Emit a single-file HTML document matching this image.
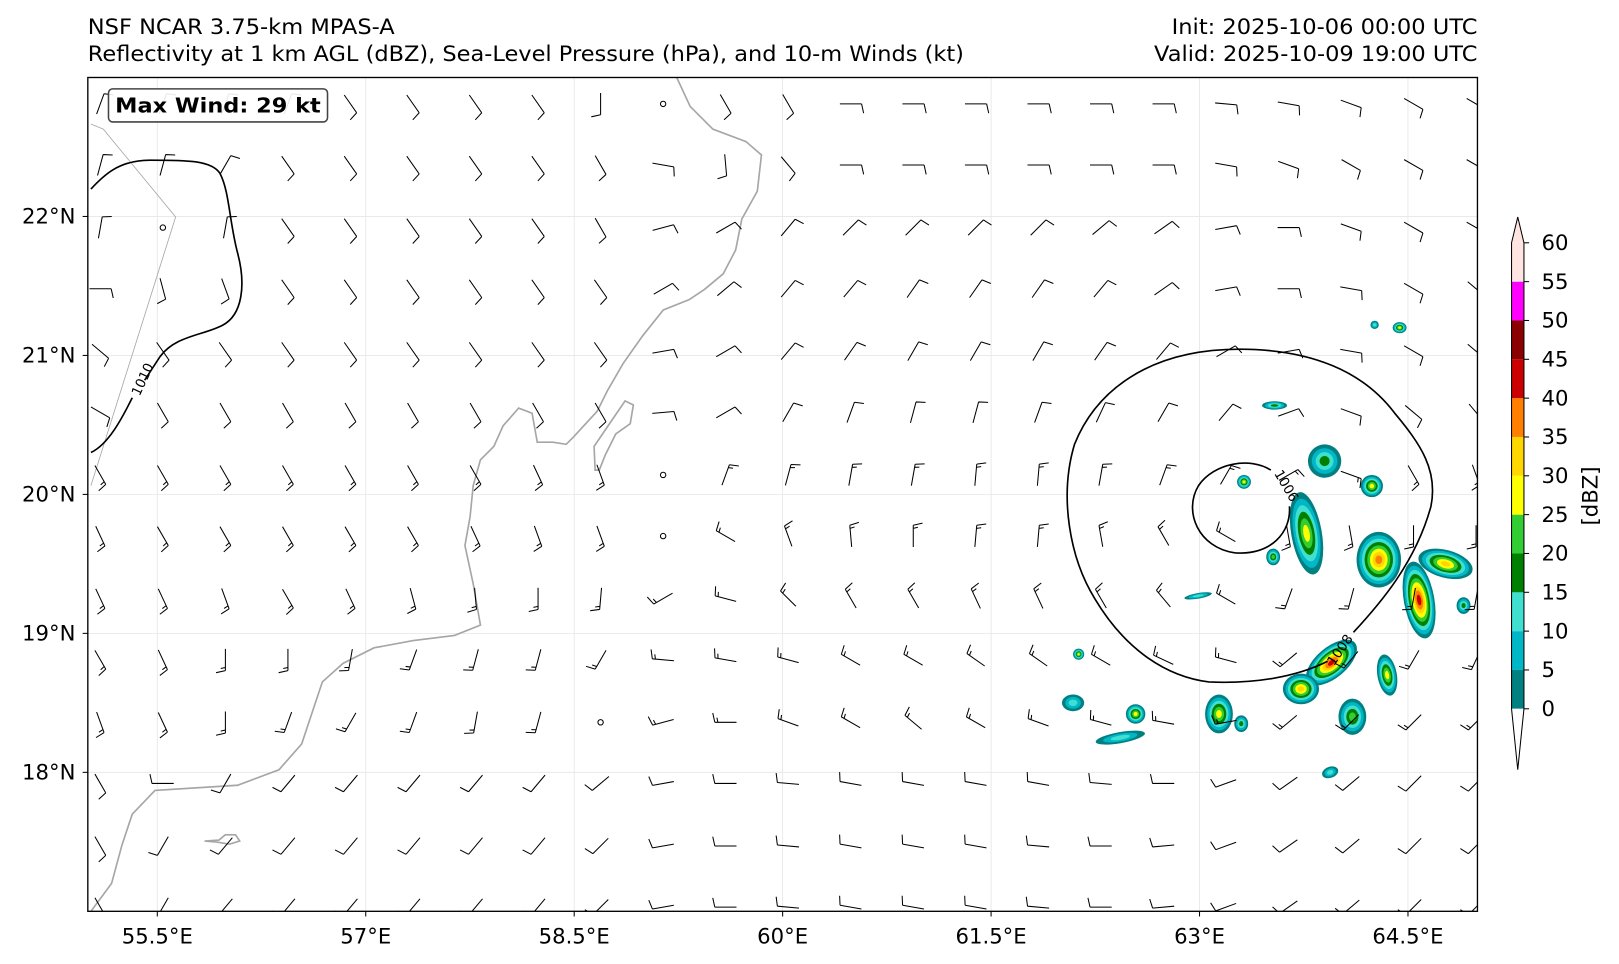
<!DOCTYPE html>
<html><head><meta charset="utf-8"><style>
html,body{margin:0;padding:0;background:#fff;width:1619px;height:964px;overflow:hidden}
svg{display:block;font-family:"DejaVu Sans","Liberation Sans",sans-serif}
</style></head><body>
<svg id="chart" width="1619" height="964" viewBox="0 0 1567 933" preserveAspectRatio="none" xmlns="http://www.w3.org/2000/svg">
<defs><clipPath id="plotclip"><rect x="85" y="75" width="1345" height="807"/></clipPath></defs>
<text x="85" y="33" font-size="20.5" textLength="297" lengthAdjust="spacingAndGlyphs">NSF NCAR 3.75-km MPAS-A</text>
<text x="85" y="59" font-size="20.5" textLength="848" lengthAdjust="spacingAndGlyphs">Reflectivity at 1 km AGL (dBZ), Sea-Level Pressure (hPa), and 10-m Winds (kt)</text>
<text x="1430" y="33" font-size="20.5" text-anchor="end" textLength="296" lengthAdjust="spacingAndGlyphs">Init: 2025-10-06 00:00 UTC</text>
<text x="1430" y="59" font-size="20.5" text-anchor="end" textLength="313" lengthAdjust="spacingAndGlyphs">Valid: 2025-10-09 19:00 UTC</text>
<g id="grid"></g>
<g clip-path="url(#plotclip)">
<g id="refl"></g>
<g fill="none" stroke="#a6a6a6" stroke-width="1.6">
<path d="M655,75 L668,103 L690,125 L722,137 L737,150 L733,185 L718,212 L712,242 L700,265 L682,280 L667,290 L642,300 L622,325 L603,352 L588,378 L578,398 L555,423 L548,430 L535,428 L520,428 L515,400 L502,395 L487,412 L478,432 L465,445 L458,470 L455,500 L450,528 L458,565 L465,605 L440,615 L400,620 L362,627 L332,642 L312,660 L302,690 L292,720 L270,745 L230,760 L150,765 L128,788 L118,818 L108,855 L88,882"/>
<path d="M576,455 L575,432 L590,410 L605,388 L613,392 L610,410 L596,420 L586,440 L580,455 Z"/>
<path d="M198,814 L212,813 L218,808 L228,808 L232,814 L222,817 L210,815 Z"/>
</g>
<path d="M88,120 L100,125 L170,210 L88,470" fill="none" stroke="#a6a6a6" stroke-width="0.8"/>
<g id="barbs" stroke="#000" stroke-width="1" fill="none"></g>
<g fill="none" stroke="#000" stroke-width="1.6">
<path d="M88,183 C100,170 115,155 145,155 C180,155 205,155 213,168 C222,185 222,215 230,245 C238,275 235,305 215,315 C195,325 170,325 155,345 L140,368 M128,385 C118,405 105,430 88,438"/>
<path d="M1230,455 C1210,442 1175,448 1160,470 C1145,495 1160,530 1195,535 C1230,538 1250,515 1248,490"/>
<path d="M1310,612 C1335,585 1370,545 1385,490 C1392,455 1375,430 1350,400 C1320,360 1270,338 1200,338 C1110,338 1060,380 1040,430 C1025,480 1035,540 1060,580 C1090,630 1130,655 1170,660 C1215,662 1255,655 1285,640"/>
</g>
<text font-size="13" transform="translate(135,384) rotate(-65)">1010</text>
<text font-size="13" transform="translate(1233,458) rotate(60)">1006</text>
<text font-size="13" transform="translate(1291,645) rotate(-55)">1008</text>
</g>
<rect x="85" y="75" width="1345" height="807" fill="none" stroke="#000" stroke-width="1.3"/>
<g>
<rect x="105" y="86" width="212" height="32" rx="4" fill="#fff" fill-opacity="0.9" stroke="#444" stroke-width="1.5"/>
<text x="211" y="109" font-size="20" font-weight="bold" text-anchor="middle" textLength="199" lengthAdjust="spacingAndGlyphs">Max Wind: 29 kt</text>
</g>
<g id="xaxis"></g>
<g id="yaxis"></g>
<g id="cbar"></g>
<text font-size="20.5" text-anchor="middle" transform="translate(1546,480) rotate(-90)">[dBZ]</text>
</svg>
<script>
const lonMin=55, lonMax=65, latMin=17, latMax=23;
const xTicks=[55.5,57,58.5,60,61.5,63,64.5];
const yTicks=[18,19,20,21,22];
const levels=[0,5,10,15,20,25,30,35,40,45,50,55,60];
const levelColors=['#008080','#00b7c7','#40e0d0','#008000','#32cd32','#ffff00','#ffd700','#ff8000','#cc0000','#8b0000','#ff00ff','#ffe4e1'];
const cbarTicks=[0,5,10,15,20,25,30,35,40,45,50,55,60];
const barbLons=[55.09,55.54,55.99,56.44,56.89,57.34,57.79,58.24,58.69,59.14,59.59,60.04,60.49,60.94,61.39,61.84,62.29,62.74,63.19,63.64,64.09,64.54,64.99];
const barbLats=[22.81,22.37,21.92,21.48,21.03,20.59,20.14,19.70,19.25,18.81,18.36,17.92,17.47,17.03];
const windDir=[
[20,20,20,20,145,145,145,145,180,-1,150,150,90,90,90,90,90,90,95,100,110,120,120],
[15,15,30,145,145,145,145,145,150,100,175,140,90,90,90,90,90,90,100,110,120,120,120],
[10,-1,10,145,145,145,145,145,150,75,60,40,45,45,45,45,50,55,80,90,110,120,120],
[90,165,160,145,145,145,145,145,145,60,50,40,40,35,35,35,40,55,80,90,100,120,130],
[130,145,145,145,145,145,145,145,145,80,60,40,35,30,30,30,35,40,60,80,100,120,130],
[120,150,150,150,150,150,150,150,150,85,60,30,20,15,15,20,25,30,40,70,110,130,140],
[150,150,150,150,150,150,150,155,160,-1,20,15,10,10,5,5,10,20,30,60,110,150,160],
[155,150,150,150,150,150,155,160,160,-1,300,340,355,0,5,5,350,330,300,170,170,180,180],
[155,155,160,150,155,165,175,180,185,240,285,315,330,330,335,335,330,320,300,200,195,190,190],
[150,155,180,180,190,200,195,195,210,275,280,285,300,300,305,305,300,295,285,230,220,210,205],
[160,155,180,200,210,200,190,195,-1,255,270,290,300,310,300,290,285,280,260,230,225,225,225],
[150,270,210,220,220,220,220,220,230,260,270,275,280,280,280,280,275,270,250,235,230,225,225],
[150,210,220,220,220,220,220,220,225,260,270,275,280,280,280,275,270,265,250,235,230,225,225],
[150,210,220,220,220,220,220,220,225,260,270,275,280,280,280,275,270,265,250,235,230,225,225]];
const rowSpeed=[10,10,10,10,12,12,13,15,15,15,15,12,12,10];
const cellLon=[63.77,64.29,64.58,64.77,63.95,63.73,63.14,62.54,62.09,62.43,62.13,63.32,63.54,64.44,64.26,63.90,64.24,63.94,62.99,63.53,64.35,64.90,63.30,64.10];
const cellLat=[19.72,19.53,19.24,19.50,18.79,18.60,18.42,18.42,18.50,18.25,18.85,20.09,20.64,21.20,21.22,20.24,20.06,18.00,19.27,19.55,18.70,19.20,18.35,18.40];
const cellRx=[0.11,0.16,0.11,0.20,0.22,0.13,0.10,0.07,0.08,0.18,0.04,0.05,0.09,0.05,0.03,0.12,0.08,0.06,0.10,0.05,0.07,0.05,0.05,0.10];
const cellRy=[0.30,0.20,0.28,0.10,0.11,0.11,0.14,0.07,0.06,0.04,0.04,0.05,0.03,0.04,0.03,0.12,0.08,0.04,0.02,0.06,0.15,0.06,0.06,0.13];
const cellPeak=[25,35,40,30,40,30,25,25,10,10,25,25,15,25,10,15,25,10,10,20,25,15,15,20];
const cellRot=[-10,0,-10,15,-40,0,0,0,0,-10,0,0,0,0,0,30,0,-20,-10,0,-10,0,0,0];

const X0=85,X1=1430,Y0=75,Y1=882;
const xs=lon=>X0+(lon-lonMin)/(lonMax-lonMin)*(X1-X0);
const ys=lat=>Y1-(lat-latMin)/(latMax-latMin)*(Y1-Y0);
const NS='http://www.w3.org/2000/svg';
function mk(tag,attrs,parent){const e=document.createElementNS(NS,tag);for(const k in attrs)e.setAttribute(k,attrs[k]);parent.appendChild(e);return e;}

const grid=document.getElementById('grid');
const xa=document.getElementById('xaxis');
xTicks.forEach(t=>{const x=xs(t);
 const g=mk('line',{x1:x,x2:x,y1:Y0,y2:Y1,stroke:'#e6e6e6','stroke-width':0.8},grid);
 
 
 const tk=mk('line',{x1:x,x2:x,y1:Y1,y2:Y1+5,stroke:'#000','stroke-width':1},xa);
 
 
 const tx=mk('text',{x:x,y:Y1+31,'font-size':20.5,'text-anchor':'middle'},xa);
 
 
 tx.textContent=t+'°E';});
const ya=document.getElementById('yaxis');
yTicks.forEach(t=>{const y=ys(t);
 const g=mk('line',{x1:X0,x2:X1,y1:y,y2:y,stroke:'#e6e6e6','stroke-width':0.8},grid);
 
 
 const tk=mk('line',{x1:X0-5,x2:X0,y1:y,y2:y,stroke:'#000','stroke-width':1},ya);
 
 
 const tx=mk('text',{x:X0-12,y:y+7,'font-size':20.5,'text-anchor':'end'},ya);
 
 
 tx.textContent=t+'°N';});

const refl=document.getElementById('refl');
const pxLon=(X1-X0)/(lonMax-lonMin), pxLat=(Y1-Y0)/(latMax-latMin);
cellLon.forEach((lon,i)=>{
 const n=Math.floor(cellPeak[i]/5)+1;
 for(let k=0;k<n;k++){
  const f=1-k/(n+0.3);
  const e=mk('ellipse',{cx:xs(lon),cy:ys(cellLat[i]),rx:cellRx[i]*pxLon*f,ry:cellRy[i]*pxLat*f,fill:levelColors[k],
   transform:`rotate(${cellRot[i]} ${xs(lon)} ${ys(cellLat[i])})`},refl);
  
  
 }});

const bg=document.getElementById('barbs');
barbLats.forEach((lat,j)=>barbLons.forEach((lon,i)=>{
 const d=windDir[j][i], sp=rowSpeed[j];
 const x=xs(lon), y=ys(lat);
 if(d<0){const c=mk('circle',{cx:x,cy:y,r:2.6},bg);
  
  return;}
 const a=d*Math.PI/180, ux=Math.sin(a), uy=-Math.cos(a), px=-uy, py=ux, L=21;
 let p=`M${x-ux*L/2},${y-uy*L/2} L${x+ux*L/2},${y+uy*L/2}`;
 let rem=Math.round(sp/5)*5, pos=L/2;
 while(rem>=10){p+=` M${x+ux*pos},${y+uy*pos} l${px*9+ux*2},${py*9+uy*2}`;pos-=3;rem-=10;}
 if(rem>=5){if(pos===L/2)pos-=3;p+=` M${x+ux*pos},${y+uy*pos} l${px*4.5+ux*1},${py*4.5+uy*1}`;}
 const b=mk('path',{d:p},bg);
 
 
}));

const cb=document.getElementById('cbar');
const CX=1463,CW=12,cTop=235,cBot=686;
const cy=v=>cBot-(v-levels[0])/(levels[levels.length-1]-levels[0])*(cBot-cTop);
for(let k=0;k<12;k++){
 const r=mk('rect',{x:CX,y:cy(levels[k+1]),width:CW,height:cy(levels[k])-cy(levels[k+1]),fill:levelColors[k]},cb);
 
 }
const tri=mk('path',{d:`M${CX},${cTop} L${CX+CW/2},${cTop-25} L${CX+CW},${cTop} Z`,fill:levelColors[11]},cb);


const tri2=mk('path',{d:`M${CX},${cBot} L${CX+CW/2},${cBot+59} L${CX+CW},${cBot} Z`,fill:'#fff'},cb);


const ol=mk('path',{d:`M${CX},${cTop} L${CX+CW/2},${cTop-25} L${CX+CW},${cTop} L${CX+CW},${cBot} L${CX+CW/2},${cBot+59} L${CX},${cBot} Z`,fill:'none',stroke:'#000','stroke-width':1},cb);


cbarTicks.forEach(t=>{const y=cy(t);
 const l=mk('line',{x1:CX+CW,x2:CX+CW+5,y1:y,y2:y,stroke:'#000'},cb);
 
 
 const tx=mk('text',{x:CX+CW+17,y:y+7,'font-size':20.5},cb);
 
 
 tx.textContent=t;});
</script>
</body></html>
